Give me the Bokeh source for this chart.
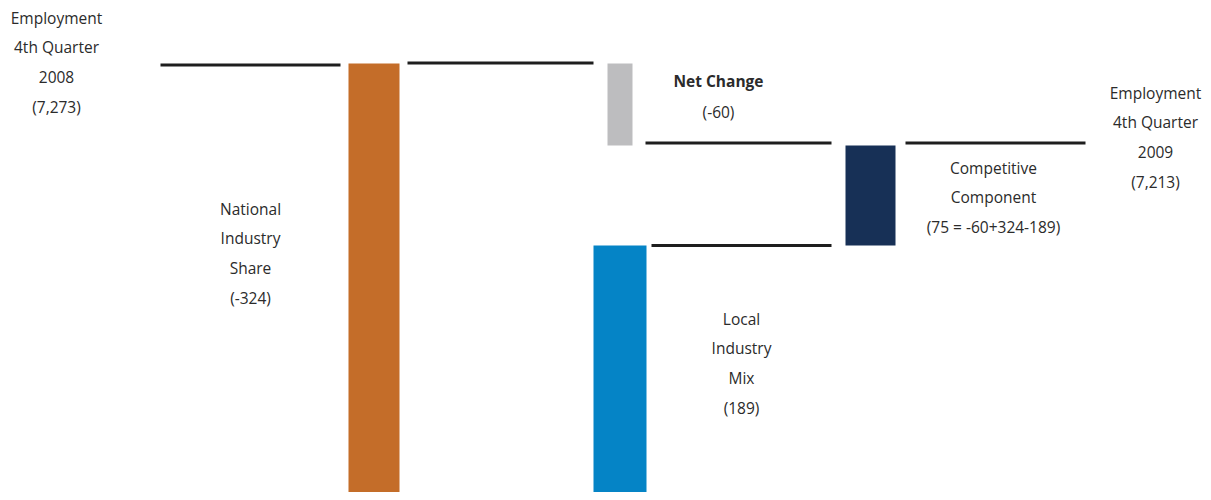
from bokeh.plotting import figure
from bokeh.models import Range1d, ColumnDataSource
from bokeh.core.properties import value
from bokeh.embed import file_html
from bokeh.resources import INLINE

# ---- data ----
components = ["National Industry Share", "Net Change", "Local Industry Mix", "Competitive Component"]
component_values = [-324, -60, 189, 75]
start_employment = 7273
end_employment = 7213
start_label = ["Employment", "4th Quarter", "2008", "(7,273)"]
end_label = ["Employment", "4th Quarter", "2009", "(7,213)"]
national_label = ["National", "Industry", "Share", "(-324)"]
net_label = ["Net Change", "(-60)"]
local_label = ["Local", "Industry", "Mix", "(189)"]
comp_label = ["Competitive", "Component", "(75 = -60+324-189)"]
bar_colors = ["#C46D29", "#BDBDBF", "#0584C6", "#173056"]

# ---- schematic layout (screen-like units; diagram is not to scale) ----
bar_left = [348, 607, 593, 845]
bar_right = [399, 632, 646, 895]
bar_top = [63, 63, 245, 145]
bar_bottom = [520, 145, 520, 245]

line_x0 = [160, 407, 645, 651, 905]
line_x1 = [340, 593, 831, 831, 1085]
line_y = [64.5, 62.5, 142.5, 245, 142.5]

p = figure(width=1203, height=492, x_range=Range1d(0, 1203), y_range=Range1d(492, 0),
           output_backend="svg", toolbar_location=None, min_border=0)
p.axis.visible = False
p.grid.visible = False
p.outline_line_color = None
p.background_fill_color = "white"
p.border_fill_color = "white"

src = ColumnDataSource(dict(left=bar_left, right=bar_right, top=bar_top, bottom=bar_bottom,
                            color=bar_colors, name=components, val=component_values))
p.quad(left="left", right="right", top="top", bottom="bottom", fill_color="color",
       line_color=None, source=src)

p.segment(x0=line_x0, x1=line_x1, y0=line_y, y1=line_y, line_color="#1e1e1e", line_width=3)

font = value("Open Sans")
txt_color = "#2b2b2b"

def block(lines, cx, y0, step=29.8, bold=None):
    ys = [y0 + i * step for i in range(len(lines))]
    for i, (t, y) in enumerate(zip(lines, ys)):
        style = "bold" if (bold is not None and i in bold) else "normal"
        p.text(x=[cx], y=[y], text=[t], text_font=font, text_font_size="15.5px",
               text_font_style=style, text_color=txt_color,
               text_align="center", text_baseline="middle")

block(start_label, 56, 17)
block(national_label, 250, 208)
block(net_label, 718, 80.5, step=30.5, bold={0})
block(local_label, 741, 318)
block(comp_label, 993, 167)
block(end_label, 1155, 92)

open("out.html", "w").write(file_html(p, INLINE))
